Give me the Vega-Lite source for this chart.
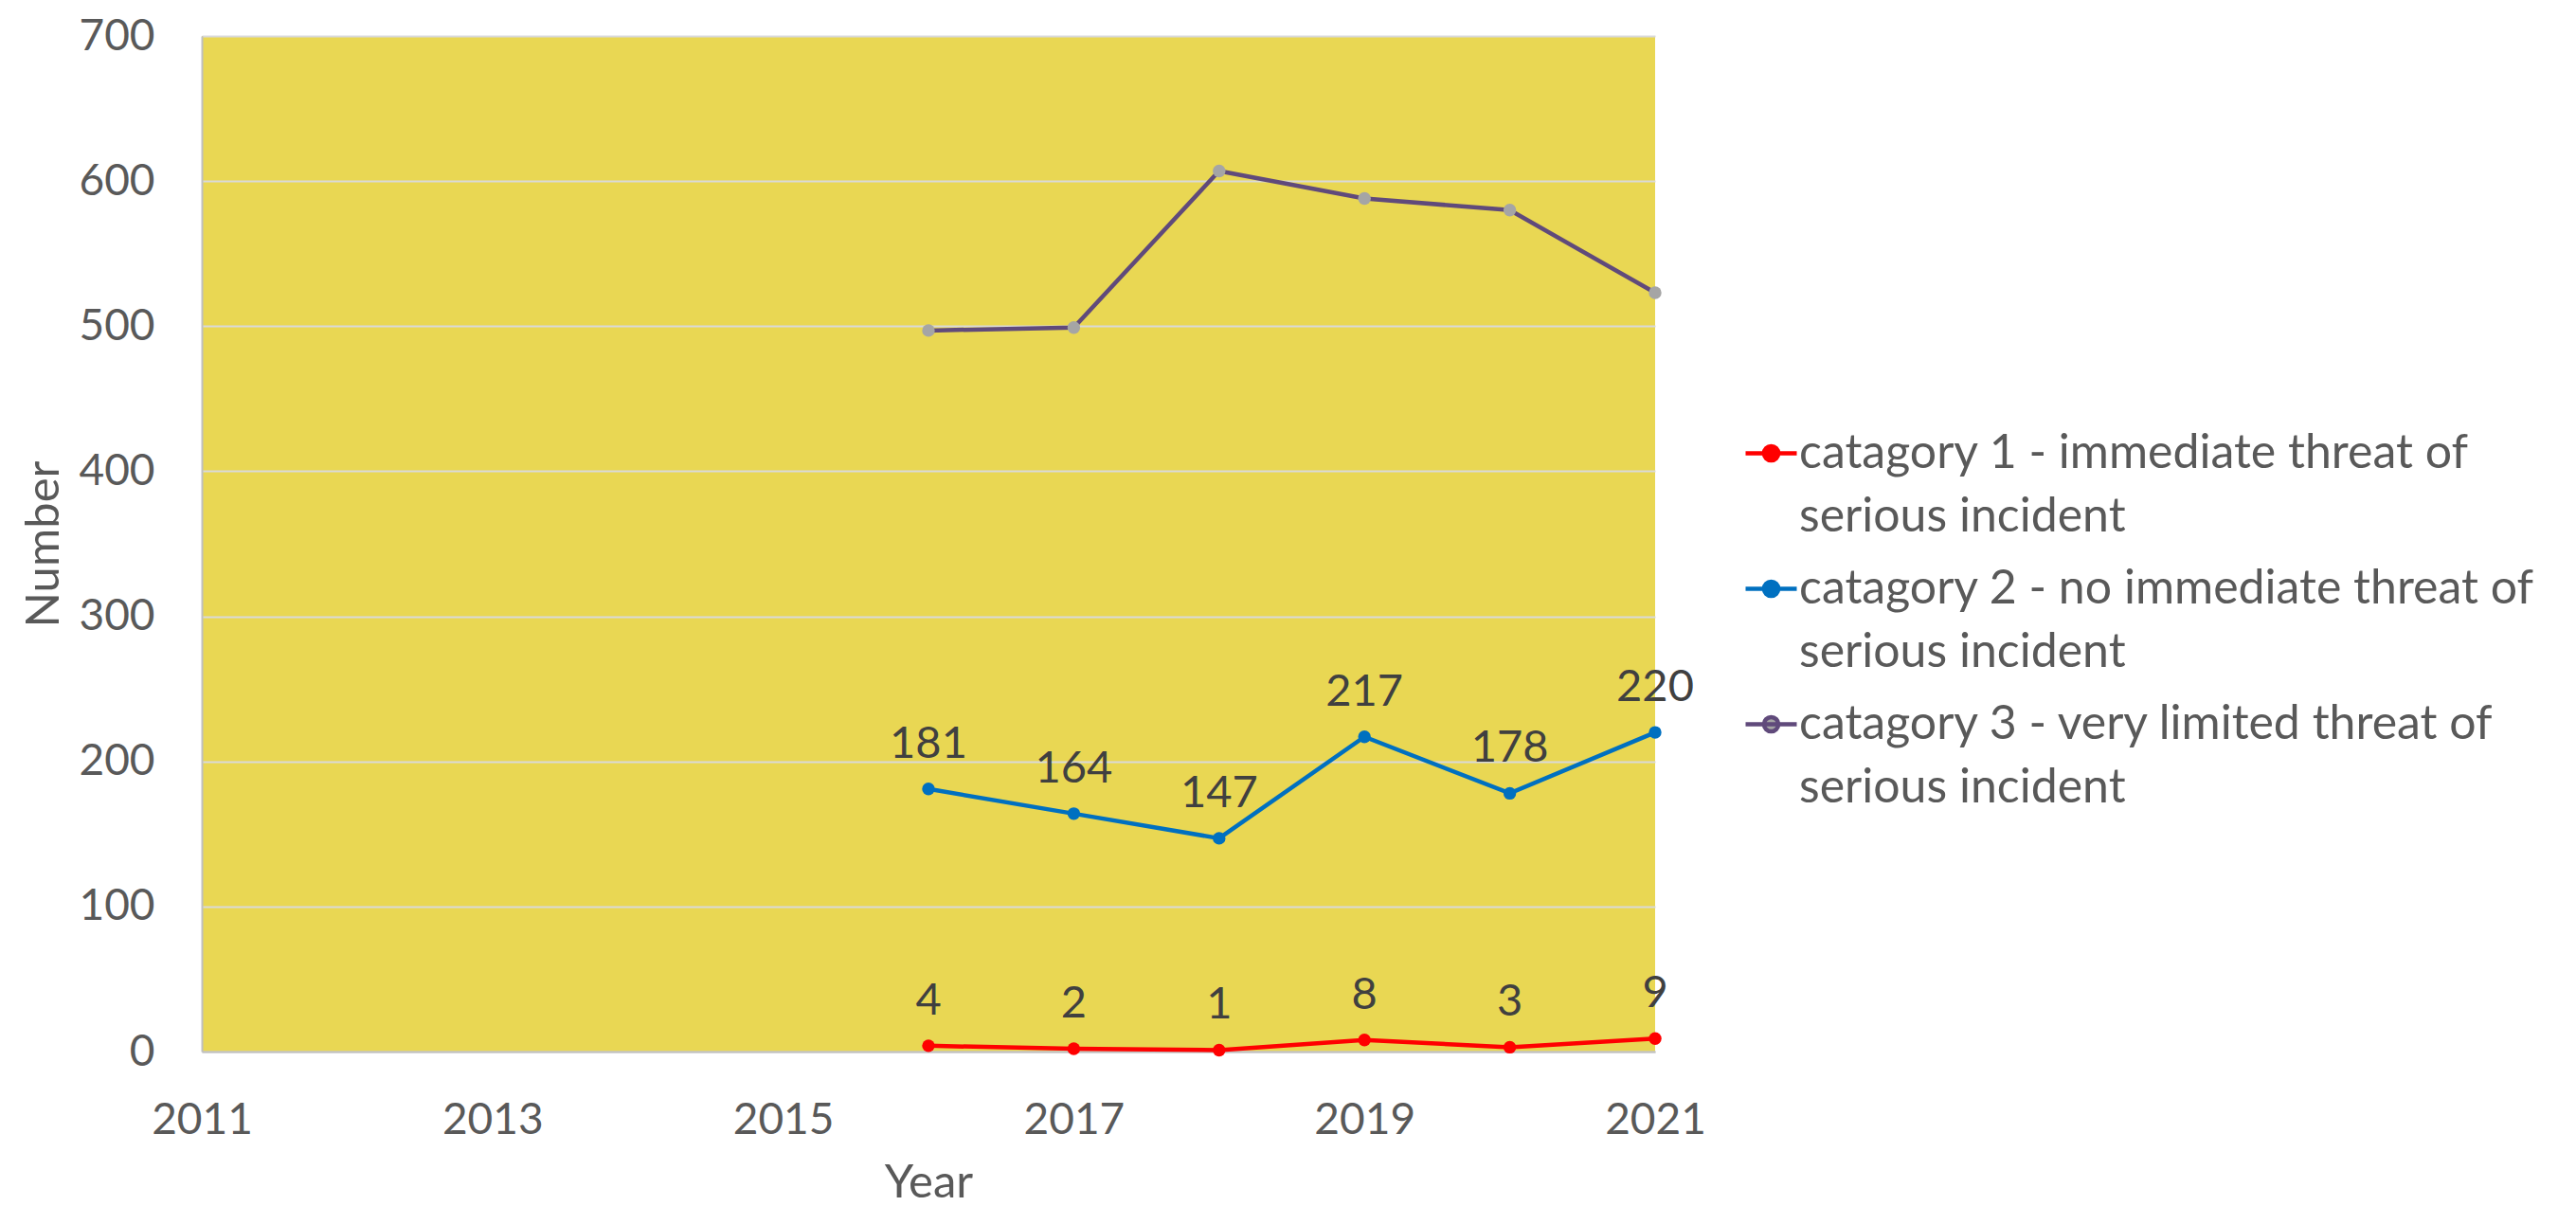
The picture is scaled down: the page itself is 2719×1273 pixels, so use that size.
{
  "$schema": "https://vega.github.io/schema/vega-lite/v6.json",
  "width": 1534,
  "height": 1072,
  "autosize": {"type": "none"},
  "padding": {"left": 213, "top": 38, "right": 972, "bottom": 163},
  "background": "white",
  "config": {
    "view": {"fill": "#E9D753", "stroke": null},
    "font": "Lato",
    "axis": {
      "labelFont": "Lato",
      "titleFont": "Lato",
      "labelFontSize": 46,
      "titleFontSize": 49,
      "labelColor": "#595959",
      "titleColor": "#595959",
      "titleFontWeight": "normal",
      "ticks": false,
      "tickSize": 0,
      "labelFlush": false,
      "domainColor": "#BFBFBF",
      "domainWidth": 2,
      "gridColor": "#D9D9D9",
      "gridWidth": 2
    },
    "legend": {
      "labelFont": "Lato",
      "labelFontSize": 50,
      "labelColor": "#595959",
      "labelLimit": 0,
      "padding": 0
    }
  },
  "data": {
    "values": [
      {"year": 2016, "series": "catagory 1 - immediate threat of serious incident", "value": 4},
      {"year": 2017, "series": "catagory 1 - immediate threat of serious incident", "value": 2},
      {"year": 2018, "series": "catagory 1 - immediate threat of serious incident", "value": 1},
      {"year": 2019, "series": "catagory 1 - immediate threat of serious incident", "value": 8},
      {"year": 2020, "series": "catagory 1 - immediate threat of serious incident", "value": 3},
      {"year": 2021, "series": "catagory 1 - immediate threat of serious incident", "value": 9},
      {"year": 2016, "series": "catagory 2 - no immediate threat of serious incident", "value": 181},
      {"year": 2017, "series": "catagory 2 - no immediate threat of serious incident", "value": 164},
      {"year": 2018, "series": "catagory 2 - no immediate threat of serious incident", "value": 147},
      {"year": 2019, "series": "catagory 2 - no immediate threat of serious incident", "value": 217},
      {"year": 2020, "series": "catagory 2 - no immediate threat of serious incident", "value": 178},
      {"year": 2021, "series": "catagory 2 - no immediate threat of serious incident", "value": 220},
      {"year": 2016, "series": "catagory 3 - very limited threat of serious incident", "value": 497},
      {"year": 2017, "series": "catagory 3 - very limited threat of serious incident", "value": 499},
      {"year": 2018, "series": "catagory 3 - very limited threat of serious incident", "value": 607},
      {"year": 2019, "series": "catagory 3 - very limited threat of serious incident", "value": 588},
      {"year": 2020, "series": "catagory 3 - very limited threat of serious incident", "value": 580},
      {"year": 2021, "series": "catagory 3 - very limited threat of serious incident", "value": 523}
    ]
  },
  "encoding": {
    "x": {
      "field": "year",
      "type": "quantitative",
      "scale": {"domain": [2011, 2021], "nice": false, "zero": false},
      "axis": {
        "title": "Year",
        "values": [2011, 2013, 2015, 2017, 2019, 2021],
        "format": "d",
        "grid": false,
        "labelPadding": 50,
        "labelBaseline": "top",
        "labelAlign": "center",
        "titleX": 767,
        "titleY": 138,
        "titleBaseline": "middle"
      }
    },
    "y": {
      "field": "value",
      "type": "quantitative",
      "scale": {"domain": [0, 700], "nice": false},
      "axis": {
        "title": "Number",
        "values": [0, 100, 200, 300, 400, 500, 600, 700],
        "grid": true,
        "labelPadding": 50,
        "labelBaseline": "middle",
        "titleX": -167,
        "titleY": 536,
        "titleAngle": -90,
        "titleAlign": "center",
        "titleBaseline": "middle"
      }
    }
  },
  "layer": [
    {
      "mark": {"type": "line", "strokeWidth": 4.5},
      "encoding": {
        "stroke": {
          "field": "series",
          "type": "nominal",
          "scale": {"range": ["#FF0000", "#0070C0", "#604A7B"]},
          "legend": {
            "title": null,
            "orient": "none",
            "legendX": 1627,
            "legendY": 411,
            "symbolType": "M-1,0L1,0M-0.28,0A0.28,0.28,0,1,1,0.28,0A0.28,0.28,0,1,1,-0.28,0Z",
            "symbolSize": 2916,
            "symbolStrokeWidth": 4.5,
            "labelOffset": 0,
            "rowPadding": 21,
            "labelExpr": "[slice(datum.label, 0, indexof(datum.label, ' serious')), 'serious incident']",
            "encode": {
              "symbols": {
                "update": {
                  "fill": {"scale": "fill", "field": "value"},
                  "stroke": {"scale": "stroke", "field": "value"}
                }
              },
              "labels": {
                "update": {"lineHeight": {"value": 67}}
              }
            }
          }
        }
      }
    },
    {
      "mark": {"type": "point", "filled": true, "size": 180, "strokeWidth": 0, "opacity": 1},
      "encoding": {
        "fill": {
          "field": "series",
          "type": "nominal",
          "scale": {"range": ["#FF0000", "#0070C0", "#A5A5A5"]},
          "legend": null
        }
      }
    },
    {
      "transform": [{"filter": "indexof(datum.series, 'catagory 3') < 0"}],
      "mark": {"type": "text", "fontSize": 47, "color": "#404040", "baseline": "middle", "align": "center", "dy": -47, "font": "Lato"},
      "encoding": {
        "text": {"field": "value", "type": "quantitative"}
      }
    }
  ]
}
